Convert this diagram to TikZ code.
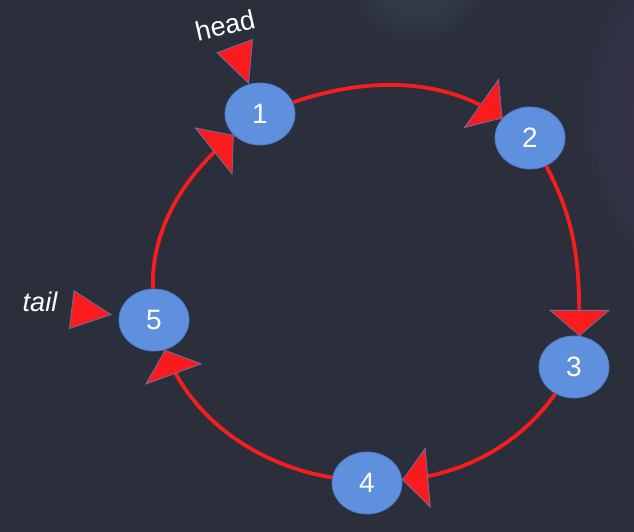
\documentclass[tikz,border=0pt]{standalone}
\usepackage{fontspec}
\setmainfont{Liberation Sans}
\usetikzlibrary{shapes.geometric,arrows.meta,decorations.markings}
\definecolor{bg}{HTML}{2B2E3B}
\definecolor{blobteal}{HTML}{38434F}
\definecolor{blobpurple}{HTML}{3C3955}
\definecolor{blobbrown}{HTML}{34313B}
\definecolor{nodeblue}{HTML}{5E90DE}
\definecolor{nodeedge}{HTML}{4C7BC6}
\definecolor{linkred}{HTML}{F41E1E}
\definecolor{tipred}{HTML}{FA1C1C}
\definecolor{tipedge}{HTML}{6B70A2}
\begin{document}
\begin{tikzpicture}[x=1pt,y=1pt,
  nodebox/.style={ellipse, minimum width=70pt, minimum height=62pt, inner sep=0pt,
    fill=nodeblue, draw=nodeedge, line width=0.8pt, text=white,
    font=\fontsize{28}{30}\selectfont},
  link/.style={draw=linkred, line width=3.8pt, looseness=0.9,
    postaction={decorate},
    decoration={markings, mark=at position 1 with
      {\arrow{Triangle[length=26pt,width=61pt,fill=tipred,color=tipedge,line width=0.8pt]}}}},
  ptr/.style={draw=tipred, line width=0.1pt,
    -{Triangle[length=41pt,width=39pt,fill=tipred,color=tipedge,line width=0.8pt]}},
  lbltext/.style={text=white, inner sep=0pt, font=\fontsize{27}{30}\selectfont}]
\useasboundingbox (0,0) rectangle (634,532);
\begin{scope}
\clip (0,0) rectangle (634,532);
\fill[bg] (0,0) rectangle (634,532);
\foreach \k in {1,...,10} {
  \fill[blobbrown, opacity=0.12] (520,300) circle ({140-12*\k});
  \fill[blobpurple, opacity=0.13] (665,420) ellipse ({95-7*\k} and {170-13*\k});
  \fill[blobteal, opacity=0.15] (418,548) ellipse ({70-5*\k} and {62-4.5*\k});
}
\end{scope}

\node[nodebox] (n1) at (260,418) {1};
\node[nodebox] (n2) at (530,394) {2};
\node[nodebox] (n3) at (574,165) {3};
\node[nodebox] (n4) at (367,49) {4};
\node[nodebox] (n5) at (154,212) {5};

\draw[link] (n1) to[out=19.5,in=144.8] (n2);
\draw[link] (n2.-60) to[out=-62,in=90,looseness=1] (n3.80);
\draw[link] (n3) to[out=-125,in=5] (n4);
\draw[link] (n4) to[out=171,in=-70] (n5);
\draw[link] (n5) to[out=92,in=-141.6] (n1);

\coordinate (hc) at (234,488);
\coordinate (tc) at (66,223);
\draw[ptr] (hc) -- (n1);
\draw[ptr, shorten >=7pt] (tc) -- (n5);

\node[lbltext, rotate=13] (headlbl) at (225,507) {head};
\node[lbltext, font=\fontsize{27}{30}\selectfont\itshape] (taillbl) at (40,230) {tail};
\end{tikzpicture}
\end{document}
